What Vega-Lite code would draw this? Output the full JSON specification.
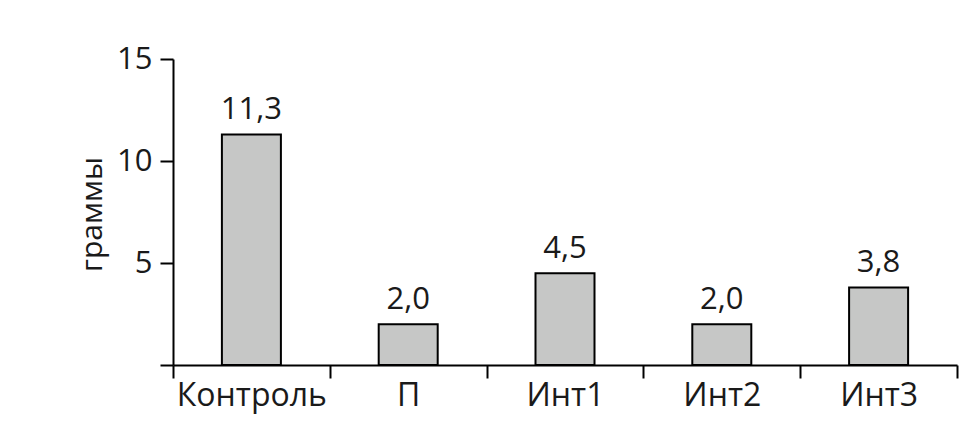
{
  "$schema": "https://vega.github.io/schema/vega-lite/v6.json",
  "width": 784,
  "height": 306,
  "autosize": {"type": "none"},
  "padding": {"left": 173, "top": 59, "right": 14, "bottom": 72},
  "background": "white",
  "data": {"values": [
    {"group": "Контроль", "value": 11.3, "label": "11,3"},
    {"group": "П", "value": 2.0, "label": "2,0"},
    {"group": "Инт1", "value": 4.5, "label": "4,5"},
    {"group": "Инт2", "value": 2.0, "label": "2,0"},
    {"group": "Инт3", "value": 3.8, "label": "3,8"}
  ]},
  "encoding": {
    "x": {"field": "group", "type": "nominal", "sort": null,
      "scale": {"paddingInner": 0, "paddingOuter": 0},
      "axis": {"title": null, "labelAngle": 0, "tickBand": "extent", "domainColor": "black", "domainWidth": 2,
        "tickColor": "black", "tickWidth": 2, "tickSize": 13, "labelFont": "Open Sans", "labelFontSize": 32,
        "labelColor": "#1a1a1a", "labelPadding": 2}},
    "y": {"field": "value", "type": "quantitative",
      "scale": {"domain": [0, 15], "nice": false},
      "axis": {"title": "граммы", "values": [0, 5, 10, 15], "labelExpr": "datum.value == 0 ? '' : datum.label",
        "grid": false, "domainColor": "black", "domainWidth": 2, "tickColor": "black", "tickWidth": 2, "tickSize": 13,
        "labelFont": "Open Sans", "labelFontSize": 31, "labelColor": "#1a1a1a", "labelPadding": 8,
        "titleFont": "Open Sans", "titleFontSize": 30, "titleFontWeight": "normal", "titleColor": "#1a1a1a",
        "titleX": -81, "titleY": 155, "titleAngle": -90, "titleBaseline": "middle", "titleAlign": "center"}}
  },
  "layer": [
    {"mark": {"type": "bar", "width": 59, "fill": "#c6c7c6", "stroke": "black", "strokeWidth": 2}},
    {"mark": {"type": "text", "baseline": "alphabetic", "dy": -15, "font": "Open Sans", "fontSize": 31, "color": "#1a1a1a"},
      "encoding": {"text": {"field": "label"}}}
  ],
  "config": {"view": {"stroke": null}}
}
